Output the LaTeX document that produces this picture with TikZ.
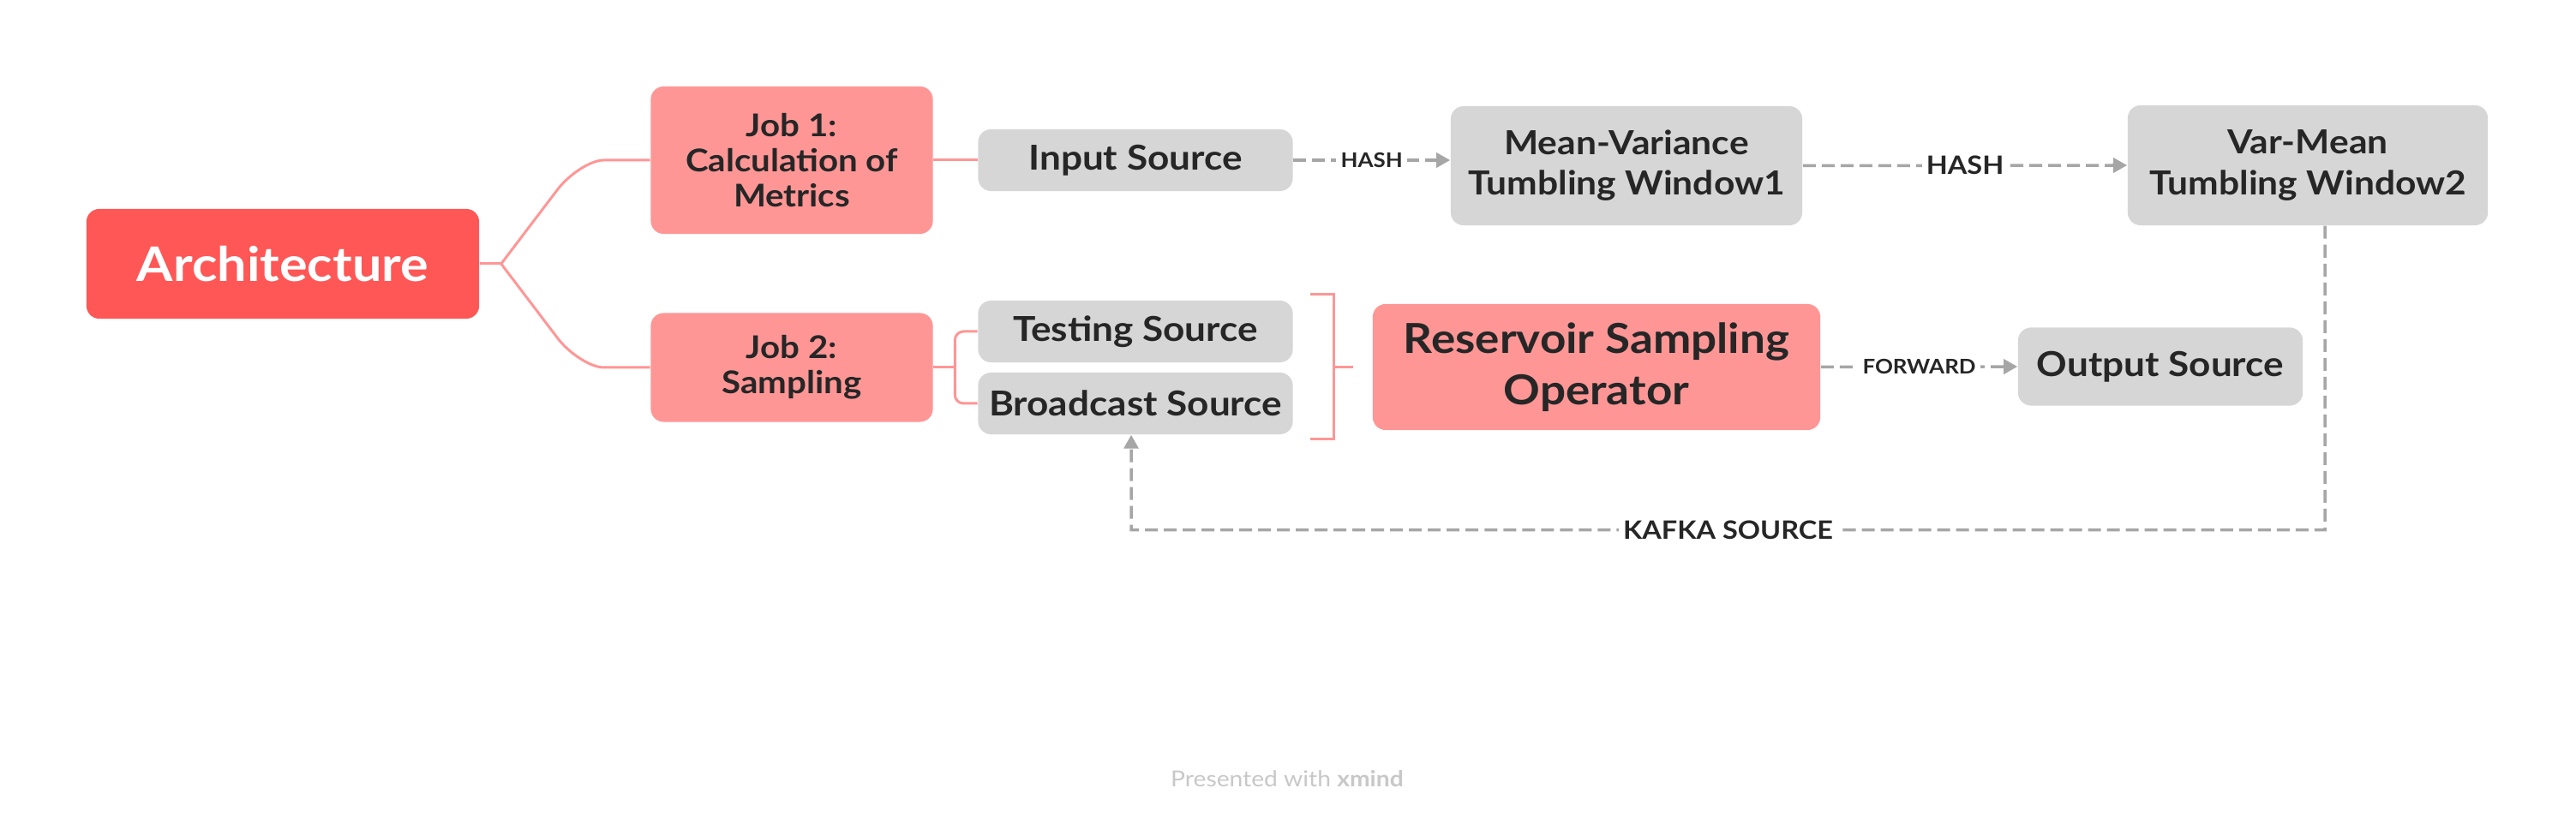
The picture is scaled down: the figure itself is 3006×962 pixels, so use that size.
\documentclass[tikz,border=0pt]{standalone}
\usepackage{fontspec}
\setmainfont{Lato}[FakeStretch=1.1]
\usetikzlibrary{arrows.meta,calc}
\definecolor{archred}{HTML}{FF5656}
\definecolor{pinkbox}{HTML}{FF9696}
\definecolor{graybox}{HTML}{D6D6D6}
\definecolor{dashgray}{HTML}{A6A6A6}
\definecolor{txt}{HTML}{262626}
\definecolor{foot}{HTML}{C8C8C8}
\begin{document}
\begin{tikzpicture}[x=0.01cm,y=-0.01cm,
 box/.style={rounded corners=0.15cm, align=center, inner sep=0pt, text=txt, font=\bfseries},
 pinkfill/.style={box, fill=pinkbox},
 grayfill/.style={box, fill=graybox},
 pinkline/.style={draw=pinkbox, line width=0.85pt},
 flow/.style={draw=dashgray, line width=1pt, dash pattern=on 0.15cm off 0.07cm, -{Triangle[length=0.16cm,width=0.17cm]}},
 lbl/.style={fill=white, inner sep=1.5pt, text=txt}
]
\useasboundingbox[fill=white] (0,0) rectangle (3006,962);

% nodes
\node[box, fill=archred, text=white, minimum width=4.58cm, minimum height=1.28cm,
      font=\bfseries\fontsize{15.8}{19}\selectfont] (arch) at (330,308) {Architecture};
\node[pinkfill, minimum width=3.29cm, minimum height=1.72cm,
      font=\bfseries\fontsize{10.4}{11.7}\selectfont] (job1) at (924,187) {Job 1:\\Calculation of\\Metrics};
\node[pinkfill, minimum width=3.29cm, minimum height=1.27cm,
      font=\bfseries\fontsize{10.4}{11.7}\selectfont] (job2) at (924,429) {Job 2:\\Sampling};
\node[grayfill, minimum width=3.67cm, minimum height=0.72cm,
      font=\bfseries\fontsize{11.4}{13}\selectfont] (input) at (1325,187) {Input Source};
\node[grayfill, minimum width=3.67cm, minimum height=0.72cm,
      font=\bfseries\fontsize{11.4}{13}\selectfont] (testing) at (1325,387) {Testing Source};
\node[grayfill, minimum width=3.67cm, minimum height=0.72cm,
      font=\bfseries\fontsize{11.4}{13}\selectfont] (broadcast) at (1325,471) {Broadcast Source};
\node[grayfill, minimum width=4.10cm, minimum height=1.39cm,
      font=\bfseries\fontsize{11}{13.4}\selectfont] (mv) at (1898,193.5) {Mean-Variance\\Tumbling Window1};
\node[grayfill, minimum width=4.20cm, minimum height=1.40cm,
      font=\bfseries\fontsize{11}{13.4}\selectfont] (vm2) at (2693,193) {Var-Mean\\Tumbling Window2};
\node[pinkfill, minimum width=5.22cm, minimum height=1.47cm,
      font=\bfseries\fontsize{13.7}{17}\selectfont] (reservoir) at (1863,428.5) {Reservoir Sampling\\Operator};
\node[grayfill, minimum width=3.32cm, minimum height=0.91cm,
      font=\bfseries\fontsize{11.4}{13}\selectfont] (output) at (2521,428) {Output Source};

% tree connectors
\draw[pinkline] (arch.east) -- ++(25,0) coordinate (fork);
\draw[pinkline] (fork) -- ($(fork)+(66,-87)$) .. controls ($(fork)+(79,-104)$) and ($(job1.west)+(-70,0)$) .. ($(job1.west)+(-54,0)$) -- (job1.west);
\draw[pinkline] (fork) -- ($(fork)+(66,87)$) .. controls ($(fork)+(79,104)$) and ($(job2.west)+(-70,0)$) .. ($(job2.west)+(-54,0)$) -- (job2.west);
\draw[pinkline] (job1.east) -- (input.west);
\draw[pinkline] (job2.east) -- ++(25,0) coordinate (fork2);
\draw[pinkline, rounded corners=0.1cm] (testing.west) -- (testing.west -| fork2) -- (broadcast.west -| fork2) -- (broadcast.west);

% right bracket
\coordinate (brtop) at (1529,344);
\coordinate (brbot) at (1529,513);
\coordinate (brmid) at (1556,428.5);
\draw[pinkline] (brtop) -- ++(27,0) -- ($(brbot)+(27,0)$) -- (brbot);
\draw[pinkline] (brmid) -- ($(reservoir.west)+(-22,0)$);

% dashed flows
\draw[flow] (input.east) -- node[lbl, font=\bfseries\fontsize{6.7}{8}\selectfont]{HASH} (input.east -| mv.west);
\draw[flow] (mv.east) -- node[lbl, font=\bfseries\fontsize{8.4}{10}\selectfont]{HASH} (vm2.west);
\draw[flow] (reservoir.east) -- node[lbl, font=\bfseries\fontsize{6.7}{8}\selectfont]{FORWARD} (output.west);
\draw[flow] ($(vm2.south)+(20,0)$) -- ($(vm2.south)+(20,355)$)
   -- node[lbl, font=\bfseries\fontsize{8.4}{10}\selectfont]{KAFKA SOURCE} ($(broadcast.south)+(-5,111)$)
   -- ($(broadcast.south)+(-5,0)$);

% footer
\node[text=foot, font=\fontsize{7.3}{9}\selectfont] (footer) at (1502,909) {Presented with \textbf{xmind}};
\end{tikzpicture}
\end{document}
